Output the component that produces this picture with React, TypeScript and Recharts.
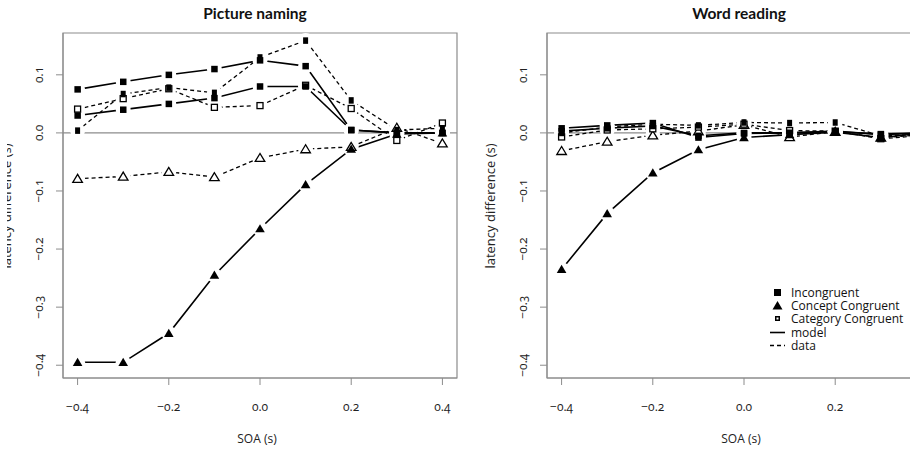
import React from "react";
import {
  LineChart,
  Line,
  XAxis,
  YAxis,
  ReferenceLine,
  ReferenceArea,
  Legend,
} from "recharts";

const SOA = [-0.4, -0.3, -0.2, -0.1, 0.0, 0.1, 0.2, 0.3, 0.4];
const X_TICKS = [-0.4, -0.2, 0.0, 0.2, 0.4];
const X_TICKS_CLIPPED = [-0.4, -0.2, 0.0, 0.2];
const Y_TICKS = [-0.4, -0.3, -0.2, -0.1, 0.0, 0.1];

// Picture naming
const pnIncongruentModel = [0.075, 0.088, 0.1, 0.11, 0.125, 0.115, 0.005, 0.0, 0.0];
const pnCategoryModel = [0.03, 0.04, 0.05, 0.06, 0.08, 0.08, 0.005, 0.0, 0.0];
const pnConceptModel = [-0.395, -0.395, -0.345, -0.245, -0.165, -0.089, -0.028, -0.002, 0.0];
const pnIncongruentData = [0.004, 0.067, 0.078, 0.069, 0.13, 0.159, 0.056, 0.005, 0.008];
const pnCategoryData = [0.041, 0.059, 0.076, 0.044, 0.047, 0.082, 0.042, -0.013, 0.017];
const pnConceptData = [-0.079, -0.075, -0.067, -0.076, -0.043, -0.028, -0.024, 0.009, -0.018];

// Word reading
const wrIncongruentModel = [0.008, 0.013, 0.017, -0.008, -0.001, 0.0, 0.003, -0.003, 0.0];
const wrCategoryModel = [0.003, 0.008, 0.012, -0.005, 0.0, 0.0, 0.002, -0.002, 0.0];
const wrConceptModel = [-0.235, -0.139, -0.069, -0.029, -0.008, -0.003, 0.001, -0.008, 0.0];
const wrIncongruentData = [0.0, 0.01, 0.015, 0.013, 0.018, 0.017, 0.018, -0.005, -0.002];
const wrCategoryData = [-0.007, 0.005, 0.007, 0.01, 0.015, 0.004, 0.003, -0.01, -0.004];
const wrConceptData = [-0.031, -0.015, -0.004, 0.003, 0.014, -0.007, 0.002, -0.008, -0.003];

const FONT = "'Open Sans', 'Noto Sans', sans-serif";
const TITLE_FONT = "Lato, 'Open Sans', sans-serif";
const GREY = "#8c8c8c";
const X_DOMAIN: [number, number] = [-0.432, 0.432];
const Y_DOMAIN: [number, number] = [-0.422, 0.172];

type Marker = "square" | "smallSquare" | "openSquare" | "triangle" | "openTriangle";

const SERIES: { key: string; dashed: boolean; marker: Marker }[] = [
  { key: "conceptData", dashed: true, marker: "openTriangle" },
  { key: "categoryData", dashed: true, marker: "openSquare" },
  { key: "incongruentData", dashed: true, marker: "smallSquare" },
  { key: "conceptModel", dashed: false, marker: "triangle" },
  { key: "categoryModel", dashed: false, marker: "square" },
  { key: "incongruentModel", dashed: false, marker: "square" },
];

function buildRows(
  incM: number[], catM: number[], conM: number[],
  incD: number[], catD: number[], conD: number[]
) {
  return SOA.map((soa, i) => ({
    soa,
    incongruentModel: incM[i],
    categoryModel: catM[i],
    conceptModel: conM[i],
    incongruentData: incD[i],
    categoryData: catD[i],
    conceptData: conD[i],
  }));
}

const pictureRows = buildRows(
  pnIncongruentModel, pnCategoryModel, pnConceptModel,
  pnIncongruentData, pnCategoryData, pnConceptData
);
const wordRows = buildRows(
  wrIncongruentModel, wrCategoryModel, wrConceptModel,
  wrIncongruentData, wrCategoryData, wrConceptData
);

function drawMarker(kind: Marker, cx: number, cy: number) {
  switch (kind) {
    case "square":
      return <rect x={cx - 3.2} y={cy - 3.2} width={6.5} height={6.5} fill="#000" />;
    case "smallSquare":
      return <rect x={cx - 2.5} y={cy - 3.2} width={5} height={6.5} fill="#000" />;
    case "openSquare":
      return (
        <rect x={cx - 3} y={cy - 3} width={6} height={6} fill="#fff" stroke="#000" strokeWidth={1.3} />
      );
    case "triangle":
      return (
        <polygon
          points={`${cx},${cy - 4.6} ${cx - 4.8},${cy + 3.6} ${cx + 4.8},${cy + 3.6}`}
          fill="#000"
        />
      );
    case "openTriangle":
      return (
        <polygon
          points={`${cx},${cy - 4.4} ${cx - 4.8},${cy + 3.6} ${cx + 4.8},${cy + 3.6}`}
          fill="#fff"
          stroke="#000"
          strokeWidth={1.3}
        />
      );
  }
}

// white disc under each point so the connecting line stops short of the symbol
const haloDot = (props: any) => (
  <circle key={`h-${props.dataKey}-${props.index}`} cx={props.cx} cy={props.cy} r={7.5} fill="#fff" />
);

const markerDot = (kind: Marker) => (props: any) => (
  <g key={`m-${props.dataKey}-${props.index}`}>{drawMarker(kind, props.cx, props.cy)}</g>
);

const fmt = (v: number) => (v < 0 ? "\u2212" : "") + Math.abs(v).toFixed(1);

const tickText: React.CSSProperties = { fontVariantNumeric: "oldstyle-nums" };

function XTick({ x, y, payload }: any) {
  return (
    <text x={x} y={y} dy={12} textAnchor="middle" fontSize={12} fill="#222" fontFamily={FONT} style={tickText}>
      {fmt(payload.value)}
    </text>
  );
}

function YTick({ x, y, payload }: any) {
  return (
    <text
      x={x}
      y={y}
      transform={`rotate(-90 ${x} ${y})`}
      textAnchor="middle"
      fontSize={12}
      fill="#222"
      fontFamily={FONT}
      style={tickText}
    >
      {fmt(payload.value)}
    </text>
  );
}

function LegendBox() {
  const rows: { label: string; icon: React.ReactNode }[] = [
    { label: "Incongruent", icon: <rect x={4} y={3} width={7} height={7} fill="#000" /> },
    { label: "Concept Congruent", icon: <polygon points="7.5,2 2.5,10.5 12.5,10.5" fill="#000" /> },
    {
      label: "Category Congruent",
      icon: (
        <g>
          <rect x={5} y={4} width={5} height={5} fill="#000" />
          <rect x={6.5} y={5.5} width={2} height={2} fill="#fff" />
        </g>
      ),
    },
    { label: "model", icon: <line x1={0} x2={15} y1={6.5} y2={6.5} stroke="#000" strokeWidth={1.6} /> },
    {
      label: "data",
      icon: <line x1={0} x2={15} y1={6.5} y2={6.5} stroke="#000" strokeWidth={1.4} strokeDasharray="4 3" />,
    },
  ];
  return (
    <div style={{ fontFamily: FONT, fontSize: 12, color: "#111" }}>
      {rows.map((r) => (
        <div key={r.label} style={{ display: "flex", alignItems: "center", height: 13.2, whiteSpace: "nowrap" }}>
          <svg width={15} height={13} style={{ marginRight: 6 }}>
            {r.icon}
          </svg>
          <span style={{ lineHeight: "13px" }}>{r.label}</span>
        </div>
      ))}
    </div>
  );
}

function Panel({ rows, xTicks, withLegend }: { rows: any[]; xTicks: number[]; withLegend?: boolean }) {
  return (
    <LineChart
      width={470}
      height={450}
      data={rows}
      margin={{ top: 33, right: 13, bottom: 0, left: 0 }}
    >
      <XAxis
        dataKey="soa"
        type="number"
        domain={X_DOMAIN}
        ticks={xTicks}
        allowDataOverflow
        height={72}
        tickSize={7}
        tickMargin={14}
        tickLine={{ stroke: GREY }}
        axisLine={{ stroke: GREY }}
        tick={<XTick />}
      />
      <YAxis
        type="number"
        domain={Y_DOMAIN}
        ticks={Y_TICKS}
        allowDataOverflow
        width={63}
        tickSize={7}
        tickMargin={13}
        tickLine={{ stroke: GREY }}
        axisLine={{ stroke: GREY }}
        tick={<YTick />}
      />
      <ReferenceArea
        x1={X_DOMAIN[0]}
        x2={X_DOMAIN[1]}
        y1={Y_DOMAIN[0]}
        y2={Y_DOMAIN[1]}
        fill="none"
        stroke={GREY}
        strokeWidth={1.2}
        ifOverflow="visible"
      />
      <ReferenceLine y={0} stroke={GREY} strokeWidth={1.2} />
      {SERIES.map((s) => (
        <Line
          key={`line-${s.key}`}
          dataKey={s.key}
          type="linear"
          stroke="#000"
          strokeWidth={s.dashed ? 1.3 : 1.6}
          strokeDasharray={s.dashed ? "4 3" : undefined}
          dot={haloDot}
          activeDot={false}
          legendType="none"
          isAnimationActive={false}
        />
      ))}
      {SERIES.map((s) => (
        <Line
          key={`pts-${s.key}`}
          dataKey={s.key}
          type="linear"
          stroke="none"
          dot={markerDot(s.marker)}
          activeDot={false}
          legendType="none"
          isAnimationActive={false}
        />
      ))}
      {withLegend && (
        <Legend
          layout="vertical"
          align="center"
          verticalAlign="middle"
          content={<LegendBox />}
          wrapperStyle={{ left: 286, top: 286, width: "auto", height: "auto" }}
        />
      )}
    </LineChart>
  );
}

const titleStyle: React.CSSProperties = {
  position: "absolute",
  top: 4,
  width: 300,
  textAlign: "center",
  fontFamily: TITLE_FONT,
  fontWeight: 700,
  fontSize: 15.5,
  color: "#111",
};

const xLabelStyle: React.CSSProperties = {
  position: "absolute",
  top: 430,
  width: 200,
  textAlign: "center",
  fontFamily: FONT,
  fontSize: 12,
  color: "#222",
};

const yLabelStyle: React.CSSProperties = {
  position: "absolute",
  top: 199,
  width: 200,
  height: 14,
  lineHeight: "14px",
  textAlign: "center",
  fontFamily: FONT,
  fontSize: 13,
  color: "#222",
  transform: "rotate(-90deg)",
  transformOrigin: "50% 50%",
};

export default function App() {
  return (
    <div
      style={{
        position: "fixed",
        left: 0,
        top: 0,
        width: 910,
        height: 450,
        overflow: "hidden",
        background: "#fff",
      }}
    >
      <div style={{ position: "absolute", left: 0, top: 0 }}>
        <Panel rows={pictureRows} xTicks={X_TICKS} />
      </div>
      <div style={{ position: "absolute", left: 484, top: 0 }}>
        <Panel rows={wordRows} xTicks={X_TICKS_CLIPPED} withLegend />
      </div>

      <div style={{ ...titleStyle, left: 255 - 150 }}>Picture naming</div>
      <div style={{ ...titleStyle, left: 739 - 150 }}>Word reading</div>

      <div style={{ ...xLabelStyle, left: 257 - 100 }}>SOA (s)</div>
      <div style={{ ...xLabelStyle, left: 741 - 100 }}>SOA (s)</div>

      {/* left panel's axis title sits mostly outside the figure edge */}
      <div style={{ position: "absolute", left: 7, top: 0, width: 10, height: 450, overflow: "hidden" }}>
        <div style={{ ...yLabelStyle, left: 5.5 - 100 - 7 }}>latency difference (s)</div>
      </div>
      <div style={{ ...yLabelStyle, left: 490 - 100 }}>latency difference (s)</div>
    </div>
  );
}
